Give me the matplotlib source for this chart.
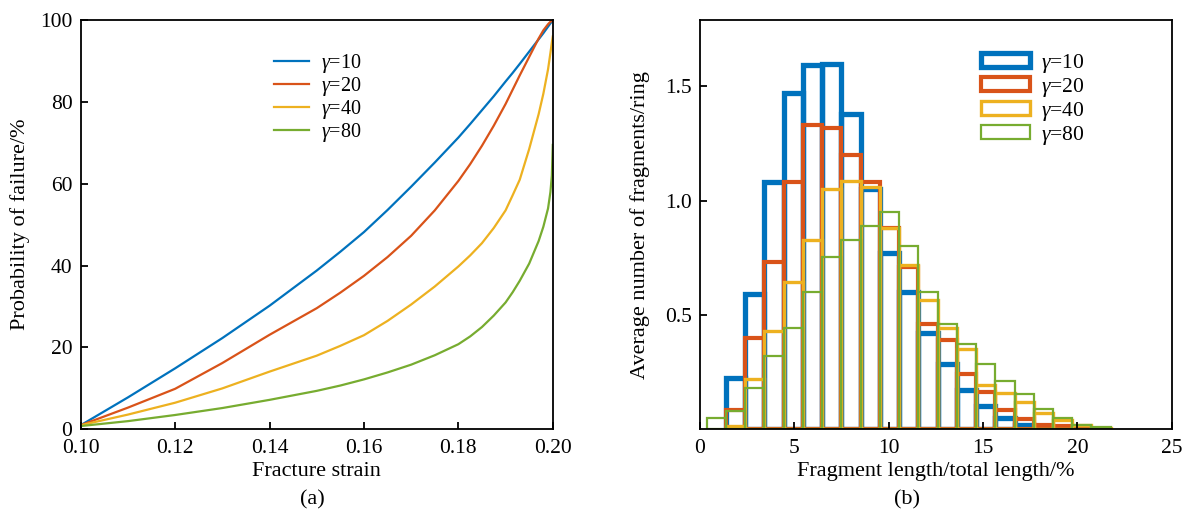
import numpy as np
import matplotlib
matplotlib.use("Agg")
import matplotlib.pyplot as plt

plt.rcParams['font.family'] = ['Liberation Serif', 'DejaVu Serif']
plt.rcParams['mathtext.fontset'] = 'custom'
plt.rcParams['mathtext.rm'] = 'Liberation Serif'
plt.rcParams['mathtext.it'] = 'Liberation Serif:italic'

# (a) probability of failure vs fracture strain
strain = [0.10, 0.11, 0.12, 0.13, 0.14, 0.15, 0.155, 0.16, 0.165, 0.17, 0.175,
          0.18, 0.1825, 0.185, 0.1875, 0.19, 0.1915, 0.193, 0.195, 0.197,
          0.198, 0.199, 0.1995, 0.1998, 0.20]
p_g10 = [1.0, 7.8, 14.9, 22.3, 30.2, 38.8, 43.4, 48.2, 53.6, 59.3, 65.2,
         71.3, 74.6, 78.0, 81.4, 85.0, 87.1, 89.3, 92.3, 95.3,
         96.8, 98.4, 99.2, 99.6, 100.0]
p_g20 = [1.0, 5.3, 9.9, 16.2, 23.1, 29.6, 33.4, 37.5, 42.1, 47.3, 53.5,
         60.7, 64.8, 69.3, 74.2, 79.5, 83.0, 86.5, 91.0, 95.5,
         97.5, 99.0, 99.6, 99.8, 100.0]
p_g40 = [1.0, 3.6, 6.5, 10.0, 14.1, 18.0, 20.4, 23.0, 26.5, 30.5, 34.9,
         39.8, 42.5, 45.5, 49.2, 53.5, 57.2, 61.0, 68.5, 77.0,
         82.0, 88.0, 92.0, 94.5, 96.0]
p_g80 = [0.8, 2.0, 3.5, 5.2, 7.2, 9.4, 10.7, 12.2, 13.9, 15.8, 18.1,
         20.8, 22.7, 25.0, 27.8, 31.0, 33.5, 36.3, 40.5, 46.0,
         49.5, 54.0, 58.0, 62.0, 69.5]

# (b) average fragments per ring, 21 bins of ~1.02 % starting at 0.35 %
bin_start = 0.35
bin_width = 1.02
n_g10 = [0, 0.225, 0.59, 1.08, 1.47, 1.594, 1.596, 1.38, 1.05, 0.77, 0.60,
         0.42, 0.285, 0.17, 0.10, 0.05, 0.02, 0.01, 0, 0, 0]
n_g20 = [0, 0.085, 0.40, 0.73, 1.08, 1.33, 1.32, 1.20, 1.08, 0.88, 0.71,
         0.46, 0.39, 0.24, 0.165, 0.085, 0.045, 0.02, 0.015, 0.005, 0]
n_g40 = [0, 0.015, 0.22, 0.43, 0.645, 0.83, 1.05, 1.085, 1.06, 0.88, 0.72,
         0.565, 0.445, 0.35, 0.195, 0.16, 0.12, 0.07, 0.04, 0.02, 0.005]
n_g80 = [0.048, 0.08, 0.18, 0.32, 0.445, 0.60, 0.755, 0.83, 0.89, 0.95, 0.80,
         0.60, 0.46, 0.375, 0.285, 0.21, 0.155, 0.09, 0.05, 0.02, 0.01]

labels = [r'$\mathit{\gamma}$=10', r'$\mathit{\gamma}$=20',
          r'$\mathit{\gamma}$=40', r'$\mathit{\gamma}$=80']
colors = ['#0072BD', '#D95319', '#EDB120', '#77AC30']
bar_lw = [3.8, 3.0, 2.4, 1.6]

fig = plt.figure(figsize=(11.87, 5.18), dpi=100)
ax1 = fig.add_axes([0.068, 0.1712, 0.3977, 0.790])
ax2 = fig.add_axes([0.5897, 0.1712, 0.3974, 0.790])

for ax in (ax1, ax2):
    for s in ax.spines.values():
        s.set_linewidth(1.3)
    ax.tick_params(direction='in', length=5, width=1.3, labelsize=15.5,
                   top=False, right=False)
    ax.tick_params(axis='x', pad=7)
    ax.tick_params(axis='y', pad=6)

# left panel
for p, c, lab in zip([p_g10, p_g20, p_g40, p_g80], colors, labels):
    ax1.plot(strain, p, color=c, lw=1.6, label=lab)
ax1.set_xlim(0.10, 0.20)
ax1.set_ylim(0, 100)
ax1.set_xticks(np.arange(0.10, 0.201, 0.02))
ax1.set_xticklabels(['%.2f' % v for v in np.arange(0.10, 0.201, 0.02)])
ax1.set_yticks(range(0, 101, 20))
ax1.set_xlabel('Fracture strain', fontsize=16)
ax1.set_ylabel('Probability of failure/%', fontsize=16)
ax1.xaxis.set_label_coords(0.5, -0.08)
ax1.yaxis.set_label_coords(-0.108, 0.5)
ax1.legend(loc='upper left', bbox_to_anchor=(0.41, 0.922), frameon=False,
           fontsize=14.5, handlelength=1.7, handletextpad=0.6,
           labelspacing=0.0, borderpad=0, borderaxespad=0)

# right panel: hollow bars, thickest first
centers = bin_start + bin_width * (np.arange(len(n_g10)) + 0.5)
for n, c, lw, lab in zip([n_g10, n_g20, n_g40, n_g80], colors, bar_lw, labels):
    n = np.array(n)
    keep = n > 0
    ax2.bar(centers[keep], n[keep], width=bin_width, facecolor='none',
            edgecolor=c, linewidth=lw, label=lab)
ax2.set_xlim(0, 25)
ax2.set_ylim(0, 1.79)
ax2.set_xticks(range(0, 26, 5))
ax2.set_yticks([0.5, 1.0, 1.5])
ax2.set_yticklabels(['0.5', '1.0', '1.5'])
ax2.set_xlabel('Fragment length/total length/%', fontsize=16)
ax2.set_ylabel('Average number of fragments/ring', fontsize=16)
ax2.xaxis.set_label_coords(0.5, -0.08)
ax2.yaxis.set_label_coords(-0.105, 0.5)
ax2.legend(loc='upper left', bbox_to_anchor=(0.595, 0.923), frameon=False,
           fontsize=15.5, handlelength=2.3, handleheight=0.6,
           handletextpad=0.5, labelspacing=0.05, borderpad=0, borderaxespad=0)

fig.text(0.2634, 0.035, '(a)', fontsize=16, ha='center', va='center')
fig.text(0.764, 0.035, '(b)', fontsize=16, ha='center', va='center')

fig.savefig('out.png', dpi=100)
